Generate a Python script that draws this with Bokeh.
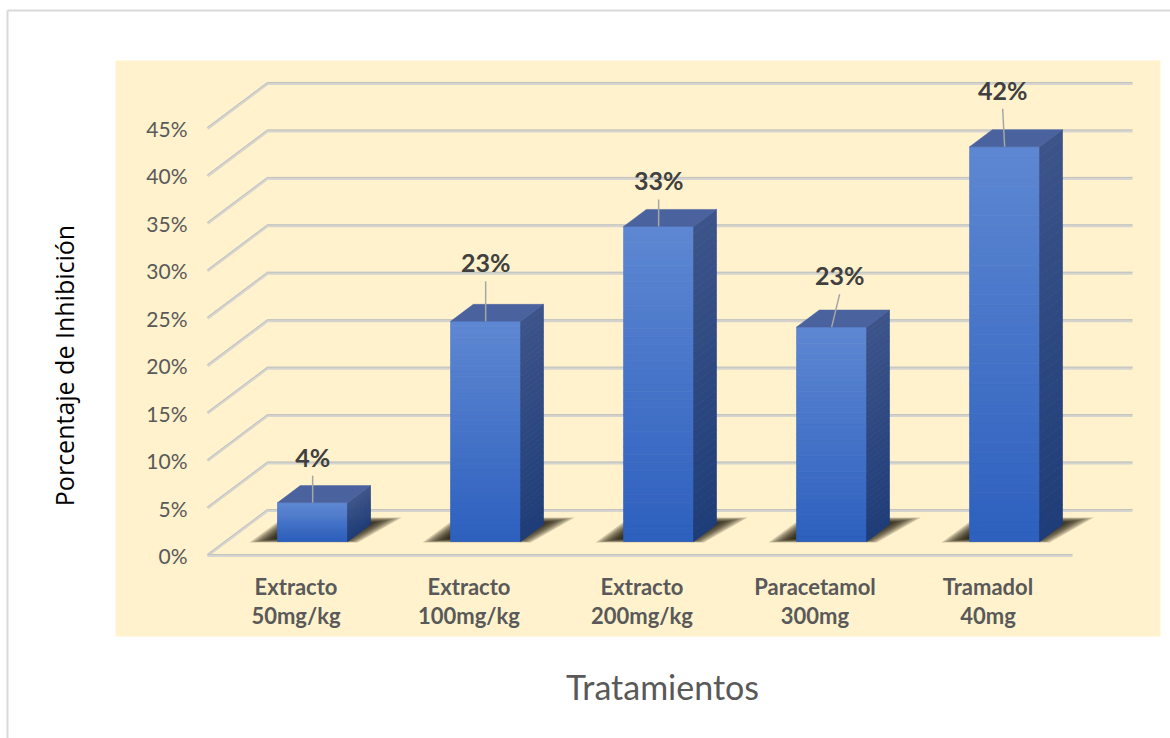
import numpy as np
from bokeh.plotting import figure
from bokeh.models import ColumnDataSource, Range1d
from bokeh.core.properties import value
from bokeh.embed import file_html
from bokeh.resources import INLINE

# ---------------- data ----------------
categories = ["Extracto\n50mg/kg", "Extracto\n100mg/kg", "Extracto\n200mg/kg",
              "Paracetamol\n300mg", "Tramadol\n40mg"]
inhibition = [4.1, 23.2, 33.2, 22.6, 41.6]          # percent
tick_values = [0, 5, 10, 15, 20, 25, 30, 35, 40, 45]
tick_labels = ["0%", "5%", "10%", "15%", "20%", "25%", "30%", "35%", "40%", "45%"]
x_title = "Tratamientos"
y_title = "Porcentaje de Inhibición"

# ---------------- layout / style ----------------
W, H = 1170, 738
X0PX, CATPX = 207.0, 173.0       # front floor left edge, pixels per category
Y0PX, PCTPX = 555.0, 9.489       # 0% front line, pixels per percent
DEPTH_X, DEPTH_Y = 60.0 / CATPX, 45.0 / PCTPX   # 3-D depth offset in data units
D0, D1 = 0.311, 0.689            # bar front / back depth fraction
BAR_W = 0.405                    # bar width in category units
FONT = value("Lato")
label_lift_px = [46, 59, 46, 52, 57]
label_shift_px = [0, 0, 0, 8, -2]


def dx(px):
    return px / CATPX


def dy(px):
    return px / PCTPX


def X(px):
    return (px - X0PX) / CATPX


def Y(py):
    return (Y0PX - py) / PCTPX


p = figure(width=W, height=H,
           x_range=Range1d(X(0), X(W)), y_range=Range1d(Y(H), Y(0)),
           output_backend="svg", toolbar_location=None, min_border=0,
           x_axis_location=None, y_axis_location=None)
p.grid.visible = False
p.outline_line_color = None
p.background_fill_color = "white"
p.border_fill_color = "white"

# outer chart border
p.multi_line(xs=[[X(7), X(7)], [X(7), X(W + 5)]],
             ys=[[Y(10), Y(H + 5)], [Y(10), Y(10)]],
             line_color="#D9D9D9", line_width=2)

# plot area background
p.quad(left=[X(115)], right=[X(1160)], top=[Y(60)], bottom=[Y(636)],
       fill_color="#FFF2CC", line_color=None)

# gridlines (3-D wall)
ncat = len(categories)
gx, gy = [], []
for v in tick_values:
    gx.append([0, DEPTH_X, ncat + DEPTH_X])
    gy.append([v, v + DEPTH_Y, v + DEPTH_Y])
gx.append([0, ncat])
gy.append([0, 0])
p.multi_line(xs=gx, ys=gy, line_color="#D6D4CE", line_width=3)
p.multi_line(xs=gx, ys=[[y + dy(1) for y in g] for g in gy],
             line_color="#C4C2BC", line_width=1)

# tick labels
p.text(x=[X(187)] * len(tick_values), y=tick_values, text=tick_labels,
       text_font=FONT, text_font_size="21px", text_color="#595959",
       text_align="right", text_baseline="middle")

# bars
base = D0 * DEPTH_Y
bdx = (D1 - D0) * DEPTH_X
bdy = (D1 - D0) * DEPTH_Y


def mix(c1, c2, t):
    return "#%02x%02x%02x" % tuple(int(round(a + (b - a) * t)) for a, b in zip(c1, c2))


front_top, front_bot = (94, 135, 210), (45, 96, 190)
side_top, side_bot = (60, 84, 138), (31, 61, 120)
top_col = "#4A639E"
NSTRIP = 40

sh_xs, sh_ys = [], []
fq = dict(left=[], right=[], top=[], bottom=[], color=[])
sxs, sys_, scol = [], [], []
txs, tys = [], []
for i, v in enumerate(inhibition):
    xc = i + 0.5 + D0 * DEPTH_X
    xl, xr = xc - BAR_W / 2, xc + BAR_W / 2
    yb, yt = base, base + v
    # shadow outline (blurred by layers)
    outer_x = [xl - dx(28), xr + dx(10), xr + dx(54), xl + dx(6)]
    outer_y = [yb - dy(1), yb - dy(1), yb + dy(24), yb + dy(24)]
    cx, cy = xl + BAR_W * 0.55, yb + dy(9)
    for k in range(10):
        s = 1.0 - k * 0.045
        sh_xs.append([cx + (x - cx) * s for x in outer_x])
        sh_ys.append([cy + (y - cy) * s for y in outer_y])
    # front face gradient
    edges = np.linspace(yb, yt, NSTRIP + 1)
    for j in range(NSTRIP):
        t = (j + 0.5) / NSTRIP
        fq["left"].append(xl)
        fq["right"].append(xr)
        fq["bottom"].append(edges[j])
        fq["top"].append(edges[j + 1])
        fq["color"].append(mix(front_bot, front_top, t))
        sxs.append([xr, xr + bdx, xr + bdx, xr])
        sys_.append([edges[j], edges[j] + bdy, edges[j + 1] + bdy, edges[j + 1]])
        scol.append(mix(side_bot, side_top, t))
    txs.append([xl, xr, xr + bdx, xl + bdx])
    tys.append([yt, yt, yt + bdy, yt + bdy])

p.patches(xs=sh_xs, ys=sh_ys, fill_color="#1A1206", fill_alpha=0.2, line_color=None)
p.quad(source=ColumnDataSource(fq), left="left", right="right", top="top",
       bottom="bottom", fill_color="color", line_color="color", line_width=0.8)
p.patches(source=ColumnDataSource(dict(xs=sxs, ys=sys_, c=scol)), xs="xs", ys="ys",
          fill_color="c", line_color="c", line_width=0.8)
p.patches(xs=txs, ys=tys, fill_color=top_col, line_color=top_col, line_width=0.5)

# data labels with leader lines
lab_x, lab_y, lab_t, lx, ly = [], [], [], [], []
for i, v in enumerate(inhibition):
    xc = i + 0.5 + D0 * DEPTH_X
    yt = base + v
    tx = xc + dx(label_shift_px[i])
    ty = yt + dy(label_lift_px[i])
    lab_x.append(tx)
    lab_y.append(ty)
    lab_t.append(f"{round(v)}%")
    lx.append([tx, xc])
    ly.append([ty - dy(19), yt])
p.multi_line(xs=lx, ys=ly, line_color="#A6A6A6", line_width=1.5)
p.text(x=lab_x, y=lab_y, text=lab_t, text_font=FONT, text_font_size="25px",
       text_font_style="bold", text_color="#404040", text_align="center",
       text_baseline="middle")

# category labels (two lines)
line1 = [c.split("\n")[0] for c in categories]
line2 = [c.split("\n")[1] for c in categories]
cat_x = [i + 0.5 + dx(2) for i in range(ncat)]
p.text(x=cat_x, y=[Y(586)] * ncat, text=line1, text_font=FONT, text_font_size="22px",
       text_font_style="bold", text_color="#595959", text_align="center",
       text_baseline="middle")
p.text(x=cat_x, y=[Y(615)] * ncat, text=line2, text_font=FONT, text_font_size="22px",
       text_font_style="bold", text_color="#595959", text_align="center",
       text_baseline="middle")

# axis titles
p.text(x=[X(662)], y=[Y(686)], text=[x_title], text_font=FONT, text_font_size="34px",
       text_color="#595959", text_align="center", text_baseline="middle")
p.text(x=[X(63)], y=[Y(365)], text=[y_title], text_font=value("Open Sans"),
       text_font_size="25px", text_color="#000000", text_align="center",
       text_baseline="middle", angle=np.pi / 2)

open("out.html", "w").write(file_html(p, INLINE))
